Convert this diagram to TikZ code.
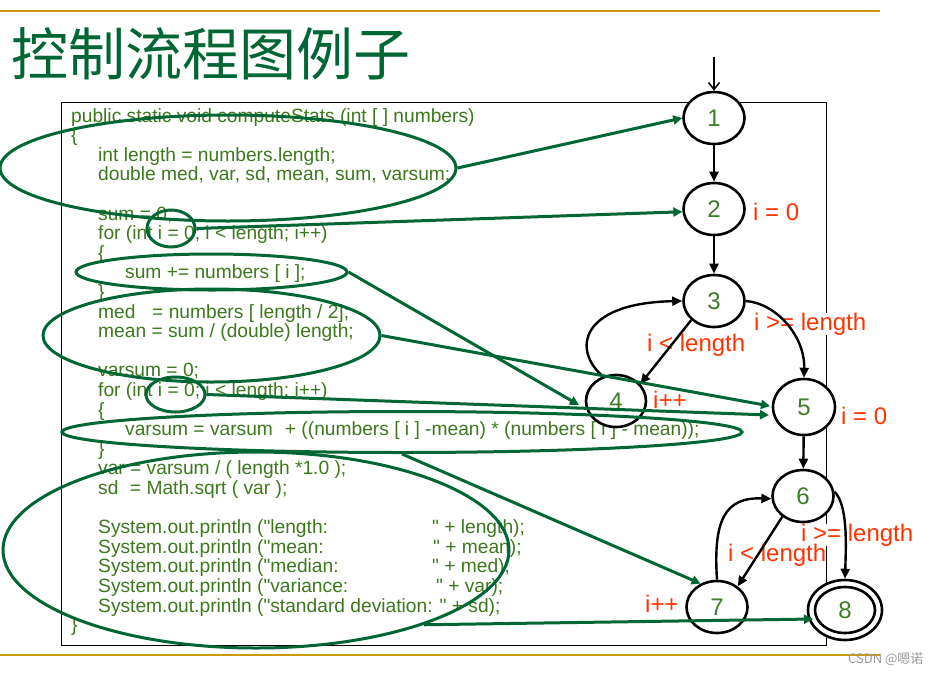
\documentclass[tikz,border=0pt]{standalone}
\usepackage{fontspec}
\setmainfont{Liberation Sans}
\newfontfamily\codefont{Liberation Sans}
\newfontfamily\cjk{Noto Sans CJK SC}
\usetikzlibrary{shapes.geometric,arrows.meta}
\definecolor{codegreen}{RGB}{60,120,30}
\definecolor{dkgreen}{RGB}{0,102,51}
\definecolor{numgreen}{RGB}{60,125,40}
\definecolor{lblred}{RGB}{255,51,0}
\definecolor{goldline}{RGB}{204,153,0}
\begin{document}
\begin{tikzpicture}[x=1pt,y=-1pt,
  code/.style={anchor=base west, inner sep=0pt, text=codegreen, font=\codefont\fontsize{19.2}{19.6}\selectfont},
  gnode/.style={ellipse, draw=black, line width=2.6pt, fill=white, inner sep=0pt, text=numgreen, font=\fontsize{24}{24}\selectfont},
  gell/.style={ellipse, draw=dkgreen, line width=3pt, inner sep=0pt},
  garrow/.style={draw=dkgreen, line width=3pt, -{Triangle[length=9pt,width=9pt]}},
  bedge/.style={draw=black, line width=2.4pt, -{Triangle[length=10pt,width=9pt]}},
  startarrow/.style={draw=black, line width=1.5pt, -{Straight Barb[length=7pt,width=11pt]}},
  lbl/.style={anchor=base west, inner sep=0pt, fill=white, text=lblred, font=\fontsize{24}{24}\selectfont},
  goldrule/.style={draw=goldline, line width=2.5pt}
]
\useasboundingbox (0,0) rectangle (930,673);
% rules
\coordinate (tl) at (0,11); \coordinate (tr) at (880,11);
\coordinate (bl) at (0,655); \coordinate (br) at (880,655);
\draw[goldrule] (tl) -- (tr);
\draw[goldrule] (bl) -- (br);
% title
\node[inner sep=0pt, text=dkgreen, font=\cjk\fontsize{57}{57}\selectfont] (title) at (211,54) {控制流程图例子};
% code box
\node[draw=black, line width=1.2pt, minimum width=765pt, minimum height=543pt, inner sep=0pt, anchor=north west] (box) at (61,102) {};
% code lines
\node[code] (c0) at (71,122) {public static void computeStats (int [ ] numbers)};
\node[code] (c1) at (71,141.6) {\{};
\node[code] (c2) at (98,161.2) {int length = numbers.length;};
\node[code] (c3) at (98,180.8) {double med, var, sd, mean, sum, varsum;};
\node[code] (c5) at (98,220) {sum = 0;};
\node[code] (c6) at (98,239.6) {for (int i = 0; i < length; i++)};
\node[code] (c7) at (98,259.2) {\{};
\node[code] (c8) at (125,278.8) {sum += numbers [ i ];};
\node[code] (c9) at (98,298.4) {\}};
\node[code] (c10) at (98,318) {med\hspace{16.7pt}= numbers [ length / 2];};
\node[code] (c11) at (98,337.6) {mean = sum / (double) length;};
\node[code] (c13) at (98,376.8) {varsum = 0;};
\node[code] (c14) at (98,396.4) {for (int i = 0; i < length; i++)};
\node[code] (c15) at (98,416) {\{};
\node[code] (c16) at (125,435.6) {varsum = varsum\hspace{12pt}+ ((numbers [ i ] -mean) * (numbers [ i ] - mean));};
\node[code] (c17) at (98,455.2) {\}};
\node[code] (c18) at (98,474.8) {var = varsum / ( length *1.0 );};
\node[code] (c19) at (98,494.4) {sd\hspace{11.5pt}= Math.sqrt ( var );};
\node[code] (c21) at (98,533.6) {\makebox[334pt][l]{System.out.println ("length:}" + length);};
\node[code] (c22) at (98,553.2) {\makebox[335pt][l]{System.out.println ("mean:}" + mean);};
\node[code] (c23) at (98,572.8) {\makebox[334pt][l]{System.out.println ("median:}" + med);};
\node[code] (c24) at (98,592.4) {\makebox[338pt][l]{System.out.println ("variance:}" + var);};
\node[code] (c25) at (98,612) {System.out.println ("standard deviation: " + sd);};
\node[code] (c26) at (71,631.6) {\}};
% labels
\node[lbl] (l2) at (753,220) {i = 0};
\node[lbl] (l35) at (754,330) {i >= length};
\node[lbl] (l34) at (647,351) {i < length};
\node[lbl] (l4) at (653,408) {i++};
\node[lbl] (l5) at (841,424) {i = 0};
\node[lbl] (l68) at (801,541) {i >= length};
\node[lbl] (l67) at (728,561) {i < length};
\node[lbl] (l7) at (645,612) {i++};
% graph nodes
\node[gnode, minimum width=61pt, minimum height=52pt] (n1) at (714,118) {1};
\node[gnode, minimum width=61pt, minimum height=52pt] (n2) at (714,209) {2};
\node[gnode, minimum width=61pt, minimum height=52pt] (n3) at (714,301) {3};
\node[gnode, minimum width=60pt, minimum height=52pt] (n4) at (616,401) {4};
\node[gnode, minimum width=62pt, minimum height=56pt] (n5) at (804,407) {5};
\node[gnode, minimum width=61pt, minimum height=52pt] (n6) at (803,496) {6};
\node[gnode, minimum width=61pt, minimum height=52pt] (n7) at (717,607) {7};
\node[gnode, minimum width=74pt, minimum height=60pt] (n8) at (845,610) {};
\node[gnode, minimum width=60pt, minimum height=46pt] (n8i) at (845,610) {8};
% black edges
\coordinate (st) at (714,57);
\draw[startarrow] (st) -- (n1.north);
\draw[bedge] (n1) -- (n2);
\draw[bedge] (n2) -- (n3);
\draw[bedge] (n3.220) -- (n4.35);
\draw[bedge] (n4.118) .. controls (572,350) and (580,303) .. (n3.180);
\draw[bedge] (n3.east) .. controls (775,303) and (805,335) .. (n5.north);
\draw[bedge] (n5) -- (n6);
\draw[bedge] (n6.225) -- (n7.45);
\draw[bedge] (n7.north) .. controls (713,520) and (725,497) .. (n6.185);
\draw[bedge] (n6.8) .. controls (848,505) and (846,545) .. (n8.north);
% green ellipses
\node[gell, minimum width=456pt, minimum height=106pt] (e1) at (228,168) {};
\node[gell, minimum width=48pt, minimum height=37pt] (e2) at (171,228.5) {};
\node[gell, minimum width=271pt, minimum height=36pt] (e3) at (211.5,272) {};
\node[gell, minimum width=337pt, minimum height=93pt] (e4) at (211.5,335.5) {};
\node[gell, minimum width=59pt, minimum height=35pt] (e5) at (175.5,394.5) {};
\node[gell, minimum width=680pt, minimum height=41pt] (e6) at (402,432) {};
\node[gell, minimum width=506pt, minimum height=196pt] (e7) at (256,550) {};
% green arrows
\coordinate (t4) at (579,405);
\coordinate (t5a) at (770,406);
\coordinate (t5b) at (769,415);
\coordinate (t8) at (813,619);
\draw[garrow] (e1.east) -- (n1.west);
\draw[garrow] (e2.east) -- (n2.185);
\draw[garrow] (e3.east) -- (t4);
\draw[garrow] (e4.east) -- (t5a);
\draw[garrow] (e5.east) -- (t5b);
\draw[garrow] (e6.south) -- (n7.125);
\draw[garrow] (e7.-24) -- (t8);
% watermark
\node[anchor=west, inner sep=0pt, text=black!40, font=\cjk\fontsize{13}{13}\selectfont] (wm) at (848,659) {CSDN @嗯诺};
\end{tikzpicture}
\end{document}
